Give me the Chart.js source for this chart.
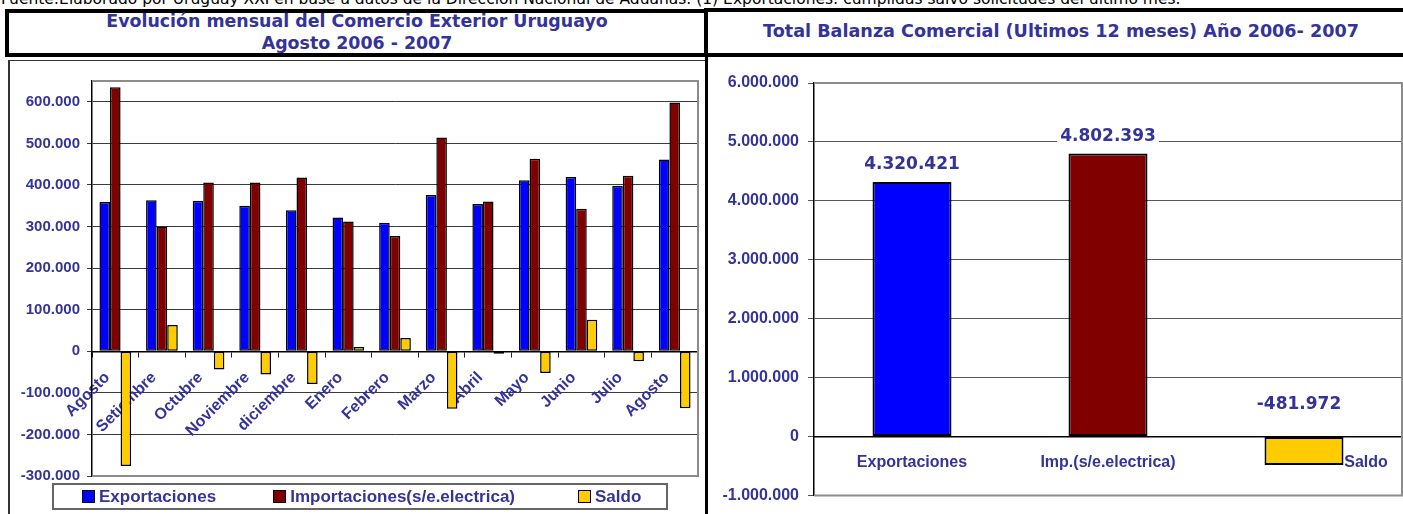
<!DOCTYPE html>
<html lang="es">
<head>
<meta charset="utf-8">
<title>Comercio Exterior Uruguayo</title>
<script src="https://cdn.jsdelivr.net/npm/chart.js@4"></script>
<style>
  html, body { margin: 0; padding: 0; background: #fff; }
  body { position: relative; width: 1403px; height: 514px; overflow: hidden; font-family: "DejaVu Sans", sans-serif; }
  #fuente { position: absolute; left: 1px; top: -9px; font-size: 15.5px; line-height: 16px; white-space: nowrap; color: #000; }
  .caja { position: absolute; box-sizing: border-box; border: 4px solid #000; }
  .titulo { position: absolute; text-align: center; color: #333399; font-weight: bold; white-space: nowrap; }
  #panelL { position: absolute; left: 8px; top: 60px; width: 700px; height: 470px; box-sizing: border-box; border-left: 2px solid #333; border-top: 1px solid #333; }
  #divisor { position: absolute; left: 705px; top: 50px; width: 3px; height: 470px; background: #000; }
  .lienzo { position: absolute; }
  #leyendaL { position: absolute; left: 52px; top: 483px; width: 616px; height: 27px; box-sizing: border-box; border: 2px solid #666; display: flex; align-items: center; padding-left: 28px; gap: 57px; }
  #leyendaL .item { display: flex; align-items: center; font: bold 17px "Liberation Sans", Arial, sans-serif; color: #333399; white-space: nowrap; }
  #leyendaL .item:last-child { margin-left: 6px; }
  #leyendaL .cuadro { width: 13px; height: 13px; box-sizing: border-box; border: 1.5px solid #000; margin-right: 4px; }
</style>
</head>
<body>
<div id="fuente">Fuente:Elaborado por Uruguay XXI en base a datos de la Dirección Nacional de Aduanas. (1) Exportaciones: cumplidas salvo solicitudes del último mes.</div>

<div class="caja" style="left:5px; top:9px; width:703px; height:48px;"></div>
<div class="caja" style="left:704px; top:8px; width:710px; height:49px;"></div>
<div class="titulo" style="left:9px; width:696px; top:10px; font-size:17.4px; line-height:22px;">Evolución mensual del Comercio Exterior Uruguayo<br>Agosto 2006 - 2007</div>
<div class="titulo" style="left:708px; width:706px; top:20px; font-size:17.6px; line-height:22px;">Total Balanza Comercial (Ultimos 12 meses) Año 2006- 2007</div>

<div id="panelL"></div>
<div id="divisor"></div>

<canvas id="chartL" class="lienzo" style="left:10px; top:61px;" width="695" height="453"></canvas>
<canvas id="chartR" class="lienzo" style="left:709px; top:61px;" width="694" height="453"></canvas>
<div id="leyendaL"></div>

<script>
"use strict";
// Datos mensuales (miles de USD)
const meses = ['Agosto', 'Setiembre', 'Octubre', 'Noviembre', 'diciembre', 'Enero', 'Febrero', 'Marzo', 'Abril', 'Mayo', 'Junio', 'Julio', 'Agosto'];
const exportaciones = [359000, 363000, 362000, 350000, 339000, 322000, 309000, 376000, 354000, 411000, 419000, 398000, 461000];
const importaciones = [635000, 300000, 406000, 406000, 418000, 312000, 277000, 514000, 360000, 463000, 343000, 422000, 598000];
const saldo = [-276000, 63000, -44000, -56000, -79000, 10000, 32000, -138000, -6000, -52000, 76000, -24000, -137000];
const seriesMensuales = ['Exportaciones', 'Importaciones(s/e.electrica)', 'Saldo'];
const ticksMensual = [-300000, -200000, -100000, 0, 100000, 200000, 300000, 400000, 500000, 600000];

// Totales de los ultimos 12 meses
const totalCategorias = ['Exportaciones', 'Imp.(s/e.electrica)', 'Saldo'];
const totalValores = [4320421, 4802393, -481972];
const ticksTotal = [-1000000, 0, 1000000, 2000000, 3000000, 4000000, 5000000, 6000000];

const AZUL_TEXTO = '#333399';
const colores = ['#0000ff', '#800000', '#ffcc00'];

const fmtMiles = (v) => (v < 0 ? '-' : '') + String(Math.abs(Math.round(v))).replace(/\B(?=(\d{3})+(?!\d))/g, '.');

// marco gris del area de trazado (arriba, derecha, abajo)
const marcoPlugin = {
    id: 'marco',
    beforeDatasetsDraw(chart) {
        const { ctx, chartArea: a } = chart;
        ctx.save();
        ctx.strokeStyle = '#8c8c8c';
        ctx.lineWidth = 2;
        ctx.beginPath();
        ctx.moveTo(a.left, a.top);
        ctx.lineTo(a.right, a.top);
        ctx.lineTo(a.right, a.bottom);
        ctx.lineTo(a.left, a.bottom);
        ctx.stroke();
        ctx.restore();
    }
};

document.addEventListener('DOMContentLoaded', () => {
    Chart.defaults.animation = false;

    // ---------- grafico mensual ----------
    const ctxL = document.getElementById('chartL').getContext('2d');
    const chartL = new Chart(ctxL, {
        type: 'bar',
        data: {
            labels: meses,
            datasets: [exportaciones, importaciones, saldo].map((serie, i) => ({
                label: seriesMensuales[i],
                data: serie,
                backgroundColor: colores[i],
                borderColor: '#000',
                borderWidth: 1.5,
                borderSkipped: false,
                categoryPercentage: 0.68,
                barPercentage: 1
            }))
        },
        options: {
            responsive: false,
            animation: false,
            layout: { padding: { top: 20, right: 7, left: 0, bottom: 38 } },
            plugins: { legend: { display: false }, tooltip: { enabled: false } },
            scales: {
                x: {
                    position: { y: 0 },
                    grid: { drawOnChartArea: false, drawTicks: true, tickLength: 5, color: '#222', offset: true },
                    border: { color: '#000', width: 1.5 },
                    ticks: {
                        autoSkip: false, minRotation: 45, maxRotation: 45, padding: 12, labelOffset: -8,
                        color: AZUL_TEXTO, font: { family: 'Liberation Sans, Arial', size: 16, weight: 'bold' }
                    }
                },
                y: {
                    min: -300000, max: 650000,
                    afterFit(scale) { scale.width = 82; },
                    afterBuildTicks(scale) { scale.ticks = ticksMensual.map(value => ({ value })); },
                    grid: { color: '#3a3a3a', lineWidth: 1, tickLength: 5 },
                    border: { color: '#000', width: 1.5 },
                    ticks: {
                        padding: 7,
                        color: AZUL_TEXTO, font: { family: 'Liberation Sans, Arial', size: 15, weight: 'bold' },
                        callback: (v) => fmtMiles(v)
                    }
                }
            }
        },
        plugins: [marcoPlugin]
    });

    // leyenda en HTML construida con los datasets
    const leyenda = document.getElementById('leyendaL');
    chartL.data.datasets.forEach((ds) => {
        const item = document.createElement('div');
        item.className = 'item';
        const cuadro = document.createElement('span');
        cuadro.className = 'cuadro';
        cuadro.style.background = ds.backgroundColor;
        item.appendChild(cuadro);
        item.appendChild(document.createTextNode(ds.label));
        leyenda.appendChild(item);
    });

    // ---------- grafico de totales ----------
    const etiquetasPlugin = {
        id: 'etiquetas',
        afterDatasetsDraw(chart) {
            const { ctx, scales: { x, y } } = chart;
            const meta = chart.getDatasetMeta(0);
            const y0 = y.getPixelForValue(0);
            ctx.save();
            ctx.textAlign = 'center';
            ctx.textBaseline = 'alphabetic';
            ctx.font = 'bold 17px "DejaVu Sans"';
            meta.data.forEach((bar, i) => {
                const v = totalValores[i];
                const txt = fmtMiles(v);
                const cx = v < 0 ? bar.x - 5 : bar.x;
                const by = v < 0 ? y0 - 27 : bar.y - 13;
                const w = ctx.measureText(txt).width;
                ctx.fillStyle = '#fff';
                ctx.fillRect(cx - w / 2 - 3, by - 15, w + 6, 19);
                ctx.fillStyle = AZUL_TEXTO;
                ctx.fillText(txt, cx, by);
            });
            ctx.font = 'bold 16px "Liberation Sans", Arial';
            totalCategorias.forEach((lab, i) => {
                // la etiqueta de Saldo queda corrida a la derecha de la barra
                const desplaz = i === totalCategorias.length - 1 ? 62 : 0;
                ctx.fillText(lab, x.getPixelForValue(i) + desplaz, y0 + 31);
            });
            ctx.restore();
        }
    };

    const ctxR = document.getElementById('chartR').getContext('2d');
    new Chart(ctxR, {
        type: 'bar',
        data: {
            labels: totalCategorias,
            datasets: [{
                label: 'Total',
                data: totalValores,
                backgroundColor: colores,
                borderColor: '#000',
                borderWidth: 2,
                borderSkipped: false,
                categoryPercentage: 1,
                barPercentage: 0.403
            }]
        },
        options: {
            responsive: false,
            animation: false,
            layout: { padding: { top: 22, right: 1, left: 0, bottom: 18 } },
            plugins: { legend: { display: false }, tooltip: { enabled: false } },
            scales: {
                x: {
                    position: { y: 0 },
                    grid: { display: false },
                    border: { color: '#000', width: 1.5 },
                    ticks: { display: false }
                },
                y: {
                    min: -1000000, max: 6000000,
                    afterFit(scale) { scale.width = 105; },
                    afterBuildTicks(scale) { scale.ticks = ticksTotal.map(value => ({ value })); },
                    grid: { color: '#555', lineWidth: 1, tickLength: 6 },
                    border: { color: '#000', width: 1.5 },
                    ticks: {
                        padding: 9,
                        color: AZUL_TEXTO, font: { family: 'Liberation Sans, Arial', size: 16, weight: 'bold' },
                        callback: (v) => fmtMiles(v)
                    }
                }
            }
        },
        plugins: [marcoPlugin, etiquetasPlugin]
    });
});
</script>
</body>
</html>
